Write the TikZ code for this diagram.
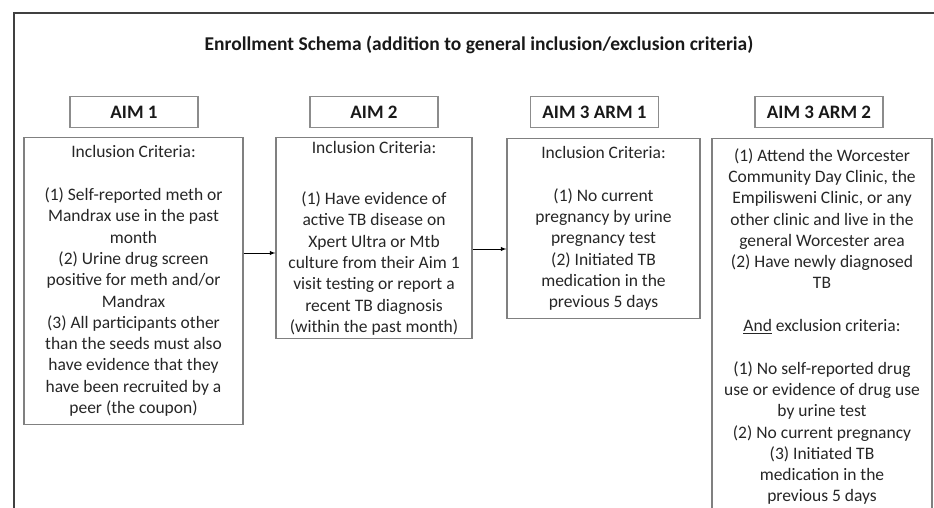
\documentclass[tikz,border=0pt]{standalone}
\usepackage{fontspec}
\setmainfont{Carlito}
\usetikzlibrary{arrows, positioning}

\begin{document}
\begin{tikzpicture}[x=1pt, y=-1pt,
  aim/.style={draw=black!45, line width=1.4pt, minimum width=128pt, minimum height=31pt,
    inner sep=0pt, font=\bfseries\fontsize{19}{22}\selectfont, text=black!90},
  crit/.style={draw=black!50, line width=1.2pt, anchor=north, align=center, inner sep=2pt,
    font=\fontsize{17.5}{21.3}\selectfont, text=black!85},
  >=latex]

  \useasboundingbox (0,0) rectangle (934,508);

  % outer frame, cut off at the right and bottom
  \draw[line width=2.6pt, black!75] (14,508) -- (14,13) -- (934,13);

  \node[font=\bfseries\fontsize{19.5}{22}\selectfont, text=black!90] (title) at (479,45)
    {Enrollment Schema (addition to general inclusion/exclusion criteria)};

  % aim headings
  \node[aim] (aim1) at (134,112) {AIM 1};
  \node[aim] (aim2) at (374,112) {AIM 2};
  \node[aim] (aim31) at (594.5,112) {AIM 3 ARM 1};
  \node[aim] (aim32) at (819,112) {AIM 3 ARM 2};

  % criteria boxes
  \node[crit, minimum width=219pt, minimum height=287pt] (b1) at (133.5,137)
    {Inclusion Criteria:\\[21.3pt]
     (1) Self-reported meth or\\ Mandrax use in the past\\ month\\
     (2) Urine drug screen\\ positive for meth and/or\\ Mandrax\\
     (3) All participants other\\ than the seeds must also\\ have evidence that they\\
     have been recruited by a\\ peer (the coupon)};
  \node[crit, minimum width=196pt, minimum height=201pt] (b2) at (374,137)
    {Inclusion Criteria:\\[30pt]
     (1) Have evidence of\\ active TB disease on\\ Xpert Ultra or Mtb\\
     culture from their Aim 1\\ visit testing or report a\\ recent TB diagnosis\\
     (within the past month)};
  \node[crit, minimum width=193pt, minimum height=180pt] (b3) at (603.5,138)
    {Inclusion Criteria:\\[21.3pt]
     (1) No current\\ pregnancy by urine\\ pregnancy test\\
     (2) Initiated TB\\ medication in the\\ previous 5 days};
  \node[crit, minimum width=220pt, minimum height=376pt] (b4) at (822,138)
    {(1) Attend the Worcester\\ Community Day Clinic, the\\ Empilisweni Clinic, or any\\
     other clinic and live in the\\ general Worcester area\\
     (2) Have newly diagnosed\\ TB\\[21.3pt]
     \underline{And} exclusion criteria:\\[21.3pt]
     (1) No self-reported drug\\ use or evidence of drug use\\ by urine test\\
     (2) No current pregnancy\\ (3) Initiated TB\\ medication in the\\ previous 5 days};

  \coordinate (arrA) at (0,253);
  \coordinate (arrB) at (0,249);
  \draw[->, line width=0.9pt] (b1.east |- arrA) -- (b2.west |- arrA);
  \draw[->, line width=0.9pt] (b2.east |- arrB) -- (b3.west |- arrB);
\end{tikzpicture}
\end{document}
